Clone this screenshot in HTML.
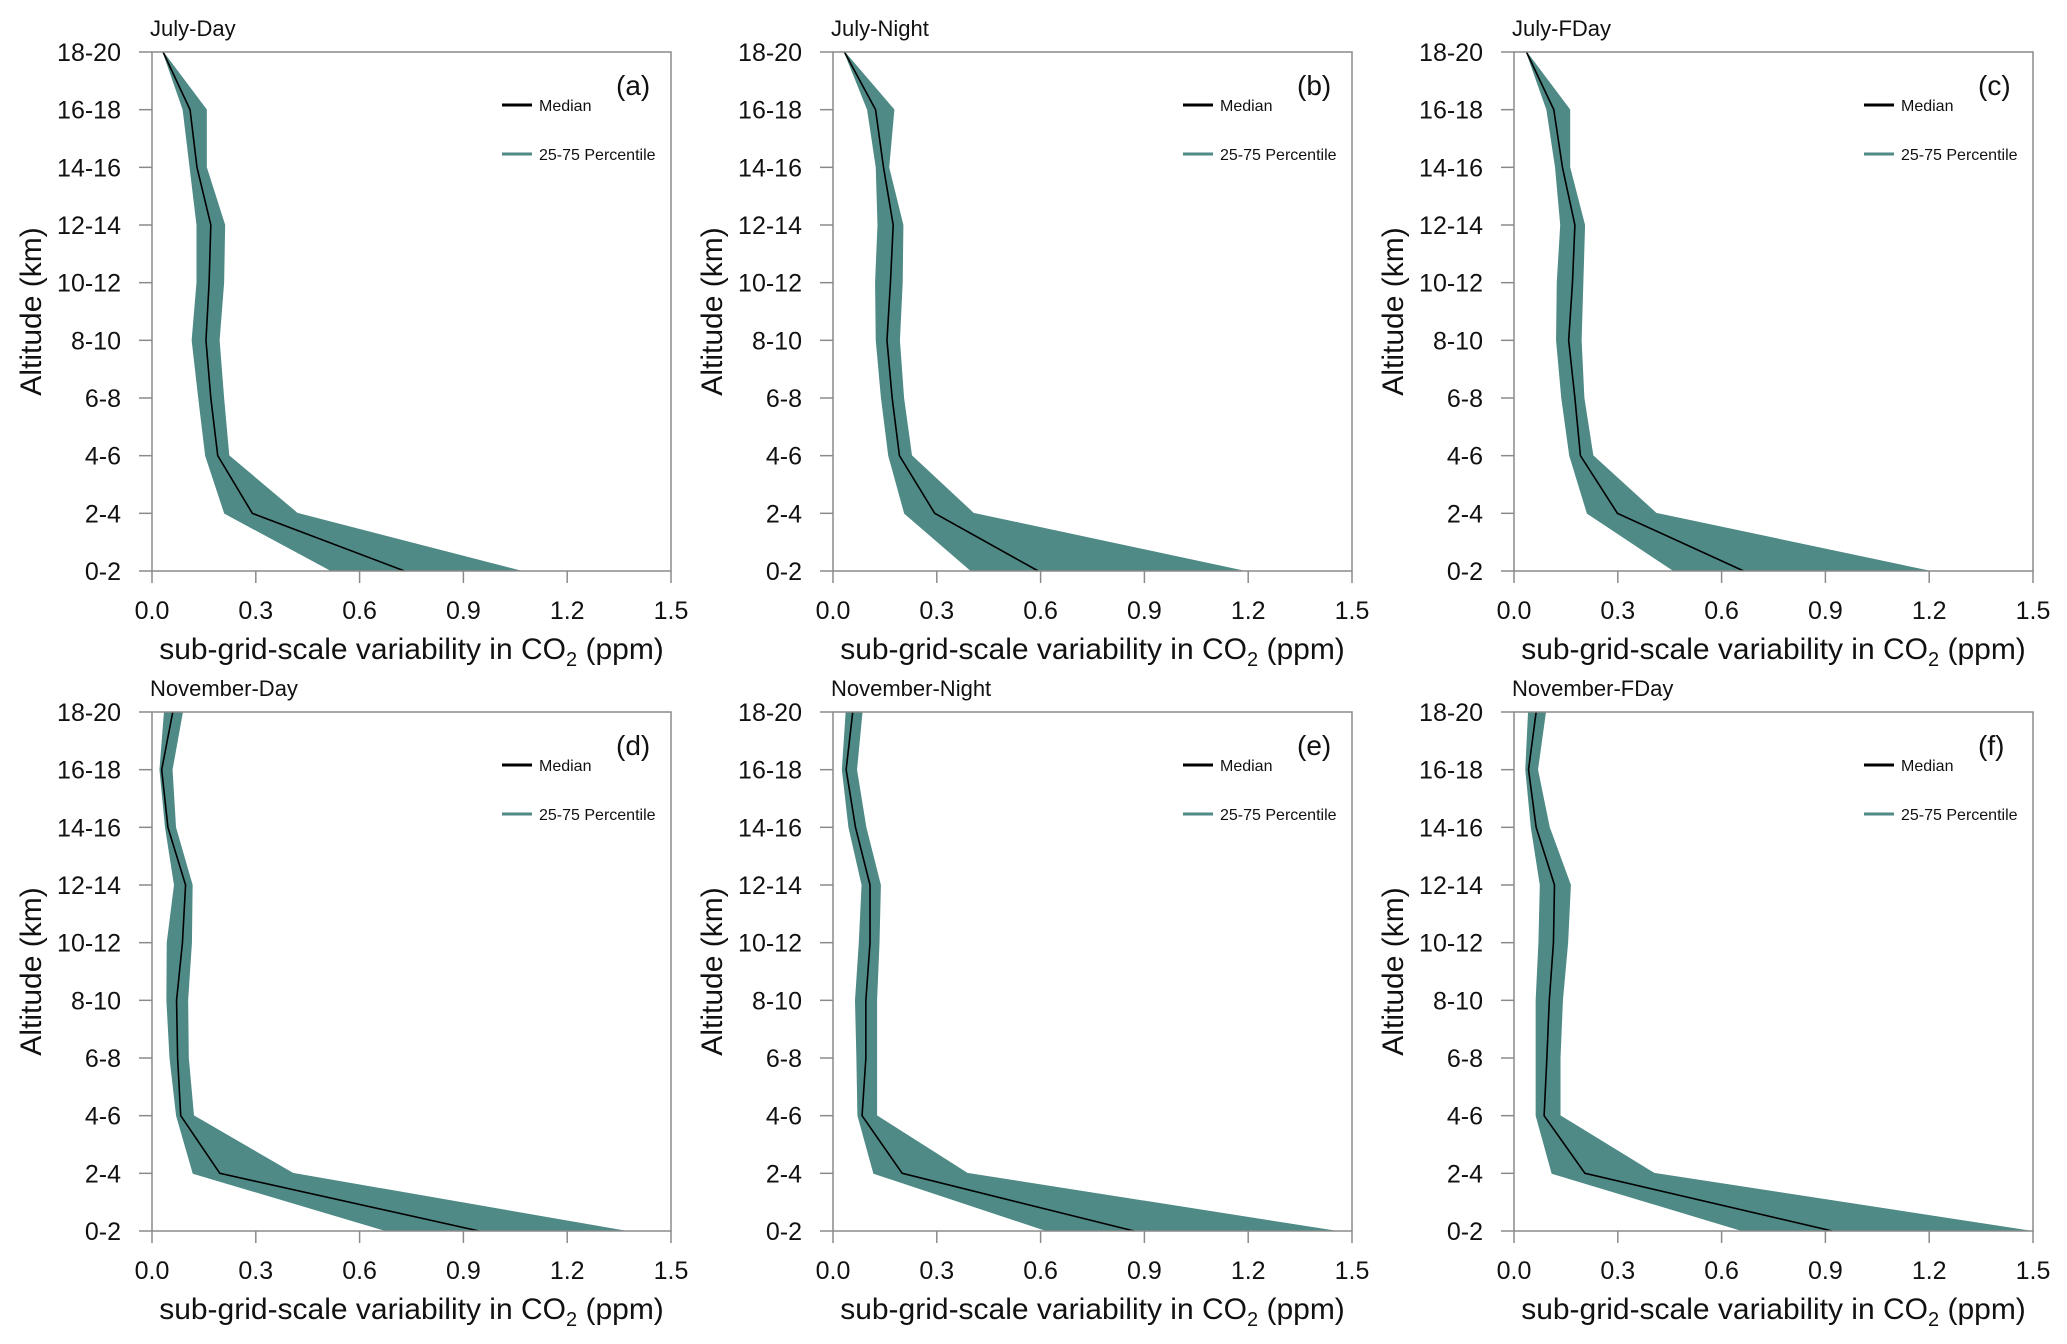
<!DOCTYPE html>
<html><head><meta charset="utf-8">
<style>
html,body{margin:0;padding:0;background:#fff;}
svg{display:block;font-family:"Liberation Sans",Arial,sans-serif;}
</style></head>
<body>
<svg id="chart" width="2067" height="1344" viewBox="0 0 2067 1344" xmlns="http://www.w3.org/2000/svg"></svg>
<script>
const levels = ["18-20","16-18","14-16","12-14","10-12","8-10","6-8","4-6","2-4","0-2"];
const xTicks = [0.0,0.3,0.6,0.9,1.2,1.5];
const xTickLabels = ["0.0","0.3","0.6","0.9","1.2","1.5"];
const panelTitles = ["July-Day","July-Night","July-FDay","November-Day","November-Night","November-FDay"];
const panelLetters = ["(a)","(b)","(c)","(d)","(e)","(f)"];

const medA = [0.032,0.11,0.13,0.17,0.165,0.156,0.17,0.19,0.29,0.73];
const lowA = [0.032,0.09,0.11,0.13,0.13,0.116,0.135,0.155,0.21,0.52];
const highA = [0.032,0.157,0.157,0.21,0.207,0.194,0.207,0.222,0.42,1.065];

const medB = [0.033,0.123,0.146,0.174,0.166,0.156,0.171,0.192,0.294,0.593];
const lowB = [0.033,0.10,0.125,0.13,0.123,0.125,0.14,0.161,0.207,0.40];
const highB = [0.033,0.176,0.161,0.202,0.20,0.192,0.204,0.227,0.406,1.186];

const medC = [0.036,0.115,0.14,0.176,0.169,0.158,0.176,0.192,0.299,0.664];
const lowC = [0.036,0.095,0.12,0.135,0.125,0.123,0.138,0.161,0.212,0.463];
const highC = [0.036,0.161,0.161,0.204,0.199,0.194,0.202,0.228,0.411,1.199];

const medD = [0.06,0.028,0.046,0.097,0.088,0.071,0.074,0.083,0.196,0.945];
const lowD = [0.036,0.023,0.039,0.065,0.044,0.043,0.052,0.071,0.119,0.68];
const highD = [0.088,0.058,0.068,0.116,0.114,0.103,0.105,0.12,0.407,1.366];

const medE = [0.057,0.038,0.065,0.107,0.107,0.095,0.095,0.084,0.20,0.87];
const lowE = [0.038,0.027,0.046,0.084,0.076,0.065,0.069,0.072,0.118,0.62];
const highE = [0.084,0.068,0.095,0.137,0.133,0.126,0.126,0.126,0.388,1.45];

const medF = [0.064,0.042,0.064,0.117,0.114,0.102,0.095,0.087,0.205,0.92];
const lowF = [0.042,0.034,0.05,0.076,0.072,0.064,0.064,0.064,0.11,0.663];
const highF = [0.091,0.068,0.102,0.163,0.155,0.14,0.133,0.133,0.405,1.49];

const medians = [medA,medB,medC,medD,medE,medF];
const lows = [lowA,lowB,lowC,lowD,lowE,lowF];
const highs = [highA,highB,highC,highD,highE,highF];

const NS = "http://www.w3.org/2000/svg";
const svg = document.getElementById('chart');
function mk(tag, attrs, parent, text){
  const e = document.createElementNS(NS, tag);
  for (const k in attrs) e.setAttribute(k, attrs[k]);
  if (text !== undefined) e.textContent = text;
  (parent||svg).appendChild(e);
  return e;
}
const lefts = [152, 833, 1514];
const W = 519;
const tops = [52, 712];
const H = 519;
const XMAX = 1.5;

for (let p = 0; p < 6; p++) {
  const L = lefts[p % 3], T = tops[Math.floor(p / 3)];
  const g = mk('g', {}, svg);
  
  
  const xs = v => L + v / XMAX * W;
  const ys = i => T + i * H / (levels.length - 1);

  let pts = [];
  for (let i = 0; i < levels.length; i++) pts.push(xs(highs[p][i]) + ',' + ys(i));
  for (let i = levels.length - 1; i >= 0; i--) pts.push(xs(lows[p][i]) + ',' + ys(i));
  const band = mk('polygon', {points: pts.join(' '), fill: '#4f8a86', stroke: '#4f8a86', 'stroke-width': 1}, g);
  
  
  const mp = medians[p].map((v, i) => xs(v) + ',' + ys(i)).join(' ');
  const med = mk('polyline', {points: mp, fill: 'none', stroke: '#000', 'stroke-width': 1.6}, g);
  
  

  const box = mk('rect', {x: L, y: T, width: W, height: H, fill: 'none', stroke: '#8a8a8a', 'stroke-width': 1.5}, g);
  
  

  for (let i = 0; i < levels.length; i++) {
    mk('line', {x1: L - 13, x2: L, y1: ys(i), y2: ys(i), stroke: '#8a8a8a', 'stroke-width': 1.5}, g);
    const t = mk('text', {x: L - 31, y: ys(i) + 9, 'text-anchor': 'end', 'font-size': 25, fill: '#111'}, g, levels[i]);
    
    
  }
  for (let j = 0; j < xTicks.length; j++) {
    const x = xs(xTicks[j]);
    mk('line', {x1: x, x2: x, y1: T + H, y2: T + H + 12, stroke: '#8a8a8a', 'stroke-width': 1.5}, g);
    const t = mk('text', {x: x, y: T + H + 48, 'text-anchor': 'middle', 'font-size': 25, fill: '#111'}, g, xTickLabels[j]);
    
    
  }
  const xt = mk('text', {x: L + W / 2, y: T + H + 88, 'text-anchor': 'middle', 'font-size': 30, fill: '#111'}, g);
  
  
  mk('tspan', {}, xt, 'sub-grid-scale variability in CO');
  mk('tspan', {'font-size': 20, dy: 7}, xt, '2');
  mk('tspan', {dy: -7}, xt, ' (ppm)');
  const yt = mk('text', {x: 0, y: 0, transform: 'translate(' + (L - 111) + ',' + (T + H / 2) + ') rotate(-90)', 'text-anchor': 'middle', 'font-size': 30, fill: '#111'}, g, 'Altitude (km)');
  
  
  const pt = mk('text', {x: L - 2, y: T - 16, 'font-size': 22, fill: '#111'}, g, panelTitles[p]);
  
  
  const lt = mk('text', {x: L + 464, y: T + 43, 'font-size': 28, fill: '#111'}, g, panelLetters[p]);
  
  
  const lg = mk('g', {}, g);
  
  
  mk('line', {x1: L + 350, x2: L + 380, y1: T + 53, y2: T + 53, stroke: '#000', 'stroke-width': 3}, lg);
  const l1 = mk('text', {x: L + 387, y: T + 59, 'font-size': 16, fill: '#111'}, lg, 'Median');
  
  
  mk('line', {x1: L + 350, x2: L + 380, y1: T + 102, y2: T + 102, stroke: '#4f8a86', 'stroke-width': 3}, lg);
  const l2 = mk('text', {x: L + 387, y: T + 108, 'font-size': 16, fill: '#111'}, lg, '25-75 Percentile');
  
  
}
</script>
</body></html>
